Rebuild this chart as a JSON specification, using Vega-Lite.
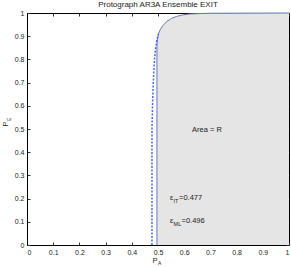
{
  "$schema": "https://vega.github.io/schema/vega-lite/v6.json",
  "width": 262,
  "height": 232,
  "autosize": {"type": "none"},
  "padding": {"left": 27, "top": 13, "right": 2, "bottom": 22},
  "background": "white",
  "config": {
    "font": "Liberation Sans",
    "view": {"stroke": "black", "strokeWidth": 1},
    "axis": {
      "grid": false,
      "domainColor": "black",
      "tickColor": "#333",
      "tickSize": -3,
      "labelPadding": 6,
      "labelFontSize": 7,
      "labelColor": "#222",
      "labelFont": "Liberation Sans",
      "labelOverlap": false,
      "title": null
    }
  },
  "title": {"text": "Protograph AR3A Ensemble EXIT", "fontSize": 8, "fontWeight": "normal", "color": "#222", "offset": 0, "font": "Liberation Sans"},
  "datasets": {
    "solid": [
      {"x": 0.496, "y": 0}, {"x": 0.496, "y": 0.5}, {"x": 0.496, "y": 0.85},
      {"x": 0.497, "y": 0.88}, {"x": 0.502, "y": 0.91}, {"x": 0.508, "y": 0.927},
      {"x": 0.518, "y": 0.945}, {"x": 0.533, "y": 0.963}, {"x": 0.552, "y": 0.977},
      {"x": 0.571, "y": 0.985}, {"x": 0.59, "y": 0.991}, {"x": 0.622, "y": 0.996},
      {"x": 0.7, "y": 0.999}, {"x": 1, "y": 1}
    ],
    "dashed": [
      {"x": 0.477, "y": 0}, {"x": 0.477, "y": 0.5}, {"x": 0.479, "y": 0.6},
      {"x": 0.482, "y": 0.7}, {"x": 0.486, "y": 0.79}, {"x": 0.49, "y": 0.84},
      {"x": 0.494, "y": 0.87}, {"x": 0.497, "y": 0.89}, {"x": 0.502, "y": 0.91}
    ],
    "labels": [
      {"x": 0.63, "y": 0.495, "t": "Area = R"}
    ],
    "eps": [
      {"x": 0.546, "y": 0.203, "sub": "IT", "val": "=0.477"},
      {"x": 0.546, "y": 0.103, "sub": "ML", "val": "=0.496"}
    ],
    "xt": [{"x": 0.5, "y": 0}],
    "yt": [{"x": 0, "y": 0.5}]
  },
  "resolve": {"axis": {"x": "independent", "y": "independent"}},
  "layer": [
    {
      "encoding": {
        "x": {"field": "x", "type": "quantitative", "scale": {"domain": [0, 1], "nice": false, "zero": false},
              "axis": {"values": [0,0.1,0.2,0.3,0.4,0.5,0.6,0.7,0.8,0.9,1], "format": "~g"}},
        "y": {"field": "y", "type": "quantitative", "scale": {"domain": [0, 1], "nice": false, "zero": false},
              "axis": {"values": [0,0.1,0.2,0.3,0.4,0.5,0.6,0.7,0.8,0.9,1], "format": "~g"}}
      },
      "layer": [
        {
          "data": {"name": "solid"},
          "mark": {"type": "area", "orient": "horizontal", "color": "#e5e5e5", "clip": true},
          "encoding": {"x2": {"datum": 1}}
        },
        {
          "data": {"name": "solid"},
          "mark": {"type": "line", "color": "#6a78b8", "strokeWidth": 1},
          "encoding": {"order": {"field": "y"}}
        },
        {
          "data": {"name": "dashed"},
          "mark": {"type": "line", "color": "#4466ff", "strokeWidth": 1.5, "strokeDash": [2, 1.5]},
          "encoding": {"order": {"field": "y"}}
        },
        {
          "data": {"name": "labels"},
          "mark": {"type": "text", "align": "left", "baseline": "middle", "fontSize": 7.5, "color": "#222"},
          "encoding": {"text": {"field": "t"}}
        },
        {
          "data": {"name": "eps"},
          "mark": {"type": "text", "align": "left", "baseline": "middle", "fontSize": 7.5, "color": "#222"},
          "encoding": {"text": {"value": "ε"}}
        },
        {
          "data": {"name": "eps"},
          "mark": {"type": "text", "align": "left", "baseline": "middle", "fontSize": 5.5, "color": "#222", "dx": 3.5, "dy": 3},
          "encoding": {"text": {"field": "sub"}}
        },
        {
          "data": {"name": "eps"},
          "transform": [{"filter": "datum.sub == 'IT'"}],
          "mark": {"type": "text", "align": "left", "baseline": "middle", "fontSize": 7.5, "color": "#222", "dx": 9},
          "encoding": {"text": {"field": "val"}}
        },
        {
          "data": {"name": "eps"},
          "transform": [{"filter": "datum.sub == 'ML'"}],
          "mark": {"type": "text", "align": "left", "baseline": "middle", "fontSize": 7.5, "color": "#222", "dx": 11.5},
          "encoding": {"text": {"field": "val"}}
        },
        {
          "data": {"name": "xt"},
          "mark": {"type": "text", "align": "center", "baseline": "middle", "fontSize": 7.5, "color": "#222", "dy": 15.5, "dx": -3},
          "encoding": {"text": {"value": "P"}}
        },
        {
          "data": {"name": "xt"},
          "mark": {"type": "text", "align": "left", "baseline": "middle", "fontSize": 5, "color": "#222", "dy": 18, "dx": 0},
          "encoding": {"text": {"value": "A"}}
        },
        {
          "data": {"name": "yt"},
          "mark": {"type": "text", "align": "center", "baseline": "middle", "fontSize": 7.5, "color": "#222", "angle": 270, "dx": 5, "dy": -21},
          "encoding": {"text": {"value": "P"}}
        },
        {
          "data": {"name": "yt"},
          "mark": {"type": "text", "align": "left", "baseline": "middle", "fontSize": 5, "color": "#222", "angle": 270, "dx": 8, "dy": -18.5},
          "encoding": {"text": {"value": "E"}}
        }
      ]
    },
    {
      "data": {"name": "solid"},
      "mark": {"type": "point", "opacity": 0},
      "encoding": {
        "x": {"field": "x", "type": "quantitative",
              "axis": {"orient": "top", "values": [0,0.1,0.2,0.3,0.4,0.5,0.6,0.7,0.8,0.9,1], "labels": false, "domain": false}},
        "y": {"field": "y", "type": "quantitative",
              "axis": {"orient": "right", "values": [0,0.1,0.2,0.3,0.4,0.5,0.6,0.7,0.8,0.9,1], "labels": false, "domain": false}}
      }
    }
  ]
}
